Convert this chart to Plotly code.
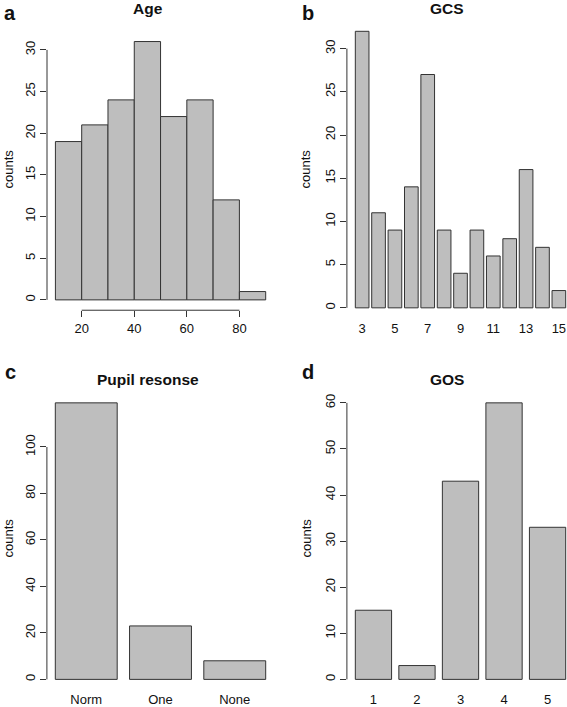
import plotly.graph_objects as go

# ---------------- data ----------------
age_edges = [10, 20, 30, 40, 50, 60, 70, 80, 90]
age_counts = [19, 21, 24, 31, 22, 24, 12, 1]
age_xticks = [20, 40, 60, 80]
age_yticks = [0, 5, 10, 15, 20, 25, 30]

gcs_levels = [3, 4, 5, 6, 7, 8, 9, 10, 11, 12, 13, 14, 15]
gcs_counts = [32, 11, 9, 14, 27, 9, 4, 9, 6, 8, 16, 7, 2]
gcs_xticks = [3, 5, 7, 9, 11, 13, 15]
gcs_yticks = [0, 5, 10, 15, 20, 25, 30]

pupil_levels = ["Norm", "One", "None"]
pupil_counts = [119, 23, 8]
pupil_yticks = [0, 20, 40, 60, 80, 100]

gos_levels = ["1", "2", "3", "4", "5"]
gos_counts = [15, 3, 43, 60, 33]
gos_yticks = [0, 10, 20, 30, 40, 50, 60]

titles = ["Age", "GCS", "Pupil resonse", "GOS"]
panel_letters = ["a", "b", "c", "d"]

# ---------------- style ----------------
W, H = 567, 707
FONT = "Liberation Sans, Arial, Helvetica, sans-serif"
BAR_FILL = "#bebebe"
BAR_LINE = "#333333"
AX_COL = "#333333"


def xd(p0, p1):
    return [p0 / W, p1 / W]


def yd(top, bottom):
    return [1 - bottom / H, 1 - top / H]


fig = go.Figure()

# Panel a: histogram drawn as bars between edges
mids = [(age_edges[i] + age_edges[i + 1]) / 2 for i in range(len(age_counts))]
widths = [age_edges[i + 1] - age_edges[i] for i in range(len(age_counts))]
fig.add_trace(go.Bar(x=mids, y=age_counts, width=widths, xaxis="x", yaxis="y",
                     marker=dict(color=BAR_FILL, line=dict(color=BAR_LINE, width=1)),
                     hoverinfo="x+y"))
# Panel b
fig.add_trace(go.Bar(x=[str(v) for v in gcs_levels], y=gcs_counts, xaxis="x2", yaxis="y2",
                     marker=dict(color=BAR_FILL, line=dict(color=BAR_LINE, width=1))))
# Panel c
fig.add_trace(go.Bar(x=pupil_levels, y=pupil_counts, xaxis="x3", yaxis="y3",
                     marker=dict(color=BAR_FILL, line=dict(color=BAR_LINE, width=1))))
# Panel d
fig.add_trace(go.Bar(x=gos_levels, y=gos_counts, xaxis="x4", yaxis="y4",
                     marker=dict(color=BAR_FILL, line=dict(color=BAR_LINE, width=1))))

tickfont = dict(family=FONT, size=13, color="#111")

common_y = dict(showgrid=False, zeroline=False, showline=False, ticks="outside",
                ticklen=6, tickwidth=1, tickcolor=AX_COL, tickangle=-90,
                tickfont=tickfont, tickmode="array", fixedrange=True)
common_xcat = dict(showgrid=False, zeroline=False, showline=False, ticks="",
                   tickfont=tickfont, type="category", fixedrange=True, tickangle=0)

doms = {
    "a": (xd(47.0, 274.1), yd(31.3, 311.1)),
    "b": (xd(346.9, 567), yd(20.3, 319.8)),
    "c": (xd(46.9, 274.1), yd(392.9, 692.4)),
    "d": (xd(346.9, 567), yd(392.9, 692.4)),
}

fig.update_layout(
    width=W, height=H, margin=dict(l=0, r=0, t=0, b=0),
    paper_bgcolor="white", plot_bgcolor="white", showlegend=False,
    bargap=1 / 6,
    font=dict(family=FONT, color="#111"),
    xaxis=dict(domain=doms["a"][0], anchor="y", range=[6.8, 93.2], showgrid=False,
               zeroline=False, showline=False, ticks="outside", ticklen=6,
               tickcolor=AX_COL, tickmode="array", tickvals=age_xticks,
               tickfont=tickfont, fixedrange=True),
    yaxis=dict(domain=doms["a"][1], anchor="x", range=[-1.24, 32.24],
               tickvals=age_yticks, **common_y),
    xaxis2=dict(domain=doms["b"][0], anchor="y2", range=[-0.93, 12.496],
                tickmode="array", tickvals=[str(v) for v in gcs_xticks],
                ticktext=[str(v) for v in gcs_xticks], **common_xcat),
    yaxis2=dict(domain=doms["b"][1], anchor="x2", range=[-1.28, 33.28],
                tickvals=gcs_yticks, **common_y),
    xaxis3=dict(domain=doms["c"][0], anchor="y3", range=[-0.53, 2.53], **common_xcat),
    yaxis3=dict(domain=doms["c"][1], anchor="x3", range=[-4.76, 123.76],
                tickvals=pupil_yticks, **common_y),
    xaxis4=dict(domain=doms["d"][0], anchor="y4", range=[-0.61, 4.4465], **common_xcat),
    yaxis4=dict(domain=doms["d"][1], anchor="x4", range=[-2.4, 62.4],
                tickvals=gos_yticks, **common_y),
)

# R-style axis lines spanning first to last tick
shapes = []
for ax_suffix, ticks in [("", age_yticks), ("2", gcs_yticks), ("3", pupil_yticks), ("4", gos_yticks)]:
    shapes.append(dict(type="line", xref=f"x{ax_suffix} domain", yref=f"y{ax_suffix}",
                       x0=0, x1=0, y0=ticks[0], y1=ticks[-1],
                       line=dict(color=AX_COL, width=1)))
shapes.append(dict(type="line", xref="x", yref="y domain", x0=age_xticks[0], x1=age_xticks[-1],
                   y0=0, y1=0, line=dict(color=AX_COL, width=1)))
fig.update_layout(shapes=shapes)

# Titles, panel letters, y-axis titles
ann = []
title_pos = [(148, 9), (447, 9), (148, 381), (447, 381)]
letter_pos = [(10, 13), (308, 13), (10, 373), (308, 373)]
ylab_pos = [(9, 170), (306, 170), (8, 540), (306, 540)]
for t, (x, y) in zip(titles, title_pos):
    ann.append(dict(text=f"<b>{t}</b>", x=x / W, y=1 - y / H, xref="paper", yref="paper",
                    xanchor="center", yanchor="middle", showarrow=False,
                    font=dict(family=FONT, size=15.5, color="#111")))
for t, (x, y) in zip(panel_letters, letter_pos):
    ann.append(dict(text=f"<b>{t}</b>", x=x / W, y=1 - y / H, xref="paper", yref="paper",
                    xanchor="center", yanchor="middle", showarrow=False,
                    font=dict(family=FONT, size=20, color="#111")))
for (x, y) in ylab_pos:
    ann.append(dict(text="counts", x=x / W, y=1 - y / H, xref="paper", yref="paper",
                    xanchor="center", yanchor="middle", showarrow=False, textangle=-90,
                    font=dict(family=FONT, size=13, color="#111")))
fig.update_layout(annotations=ann)

fig.write_html("out.html", config={"displayModeBar": False},
               post_script="document.body.style.margin='0';document.body.style.overflow='hidden';")
